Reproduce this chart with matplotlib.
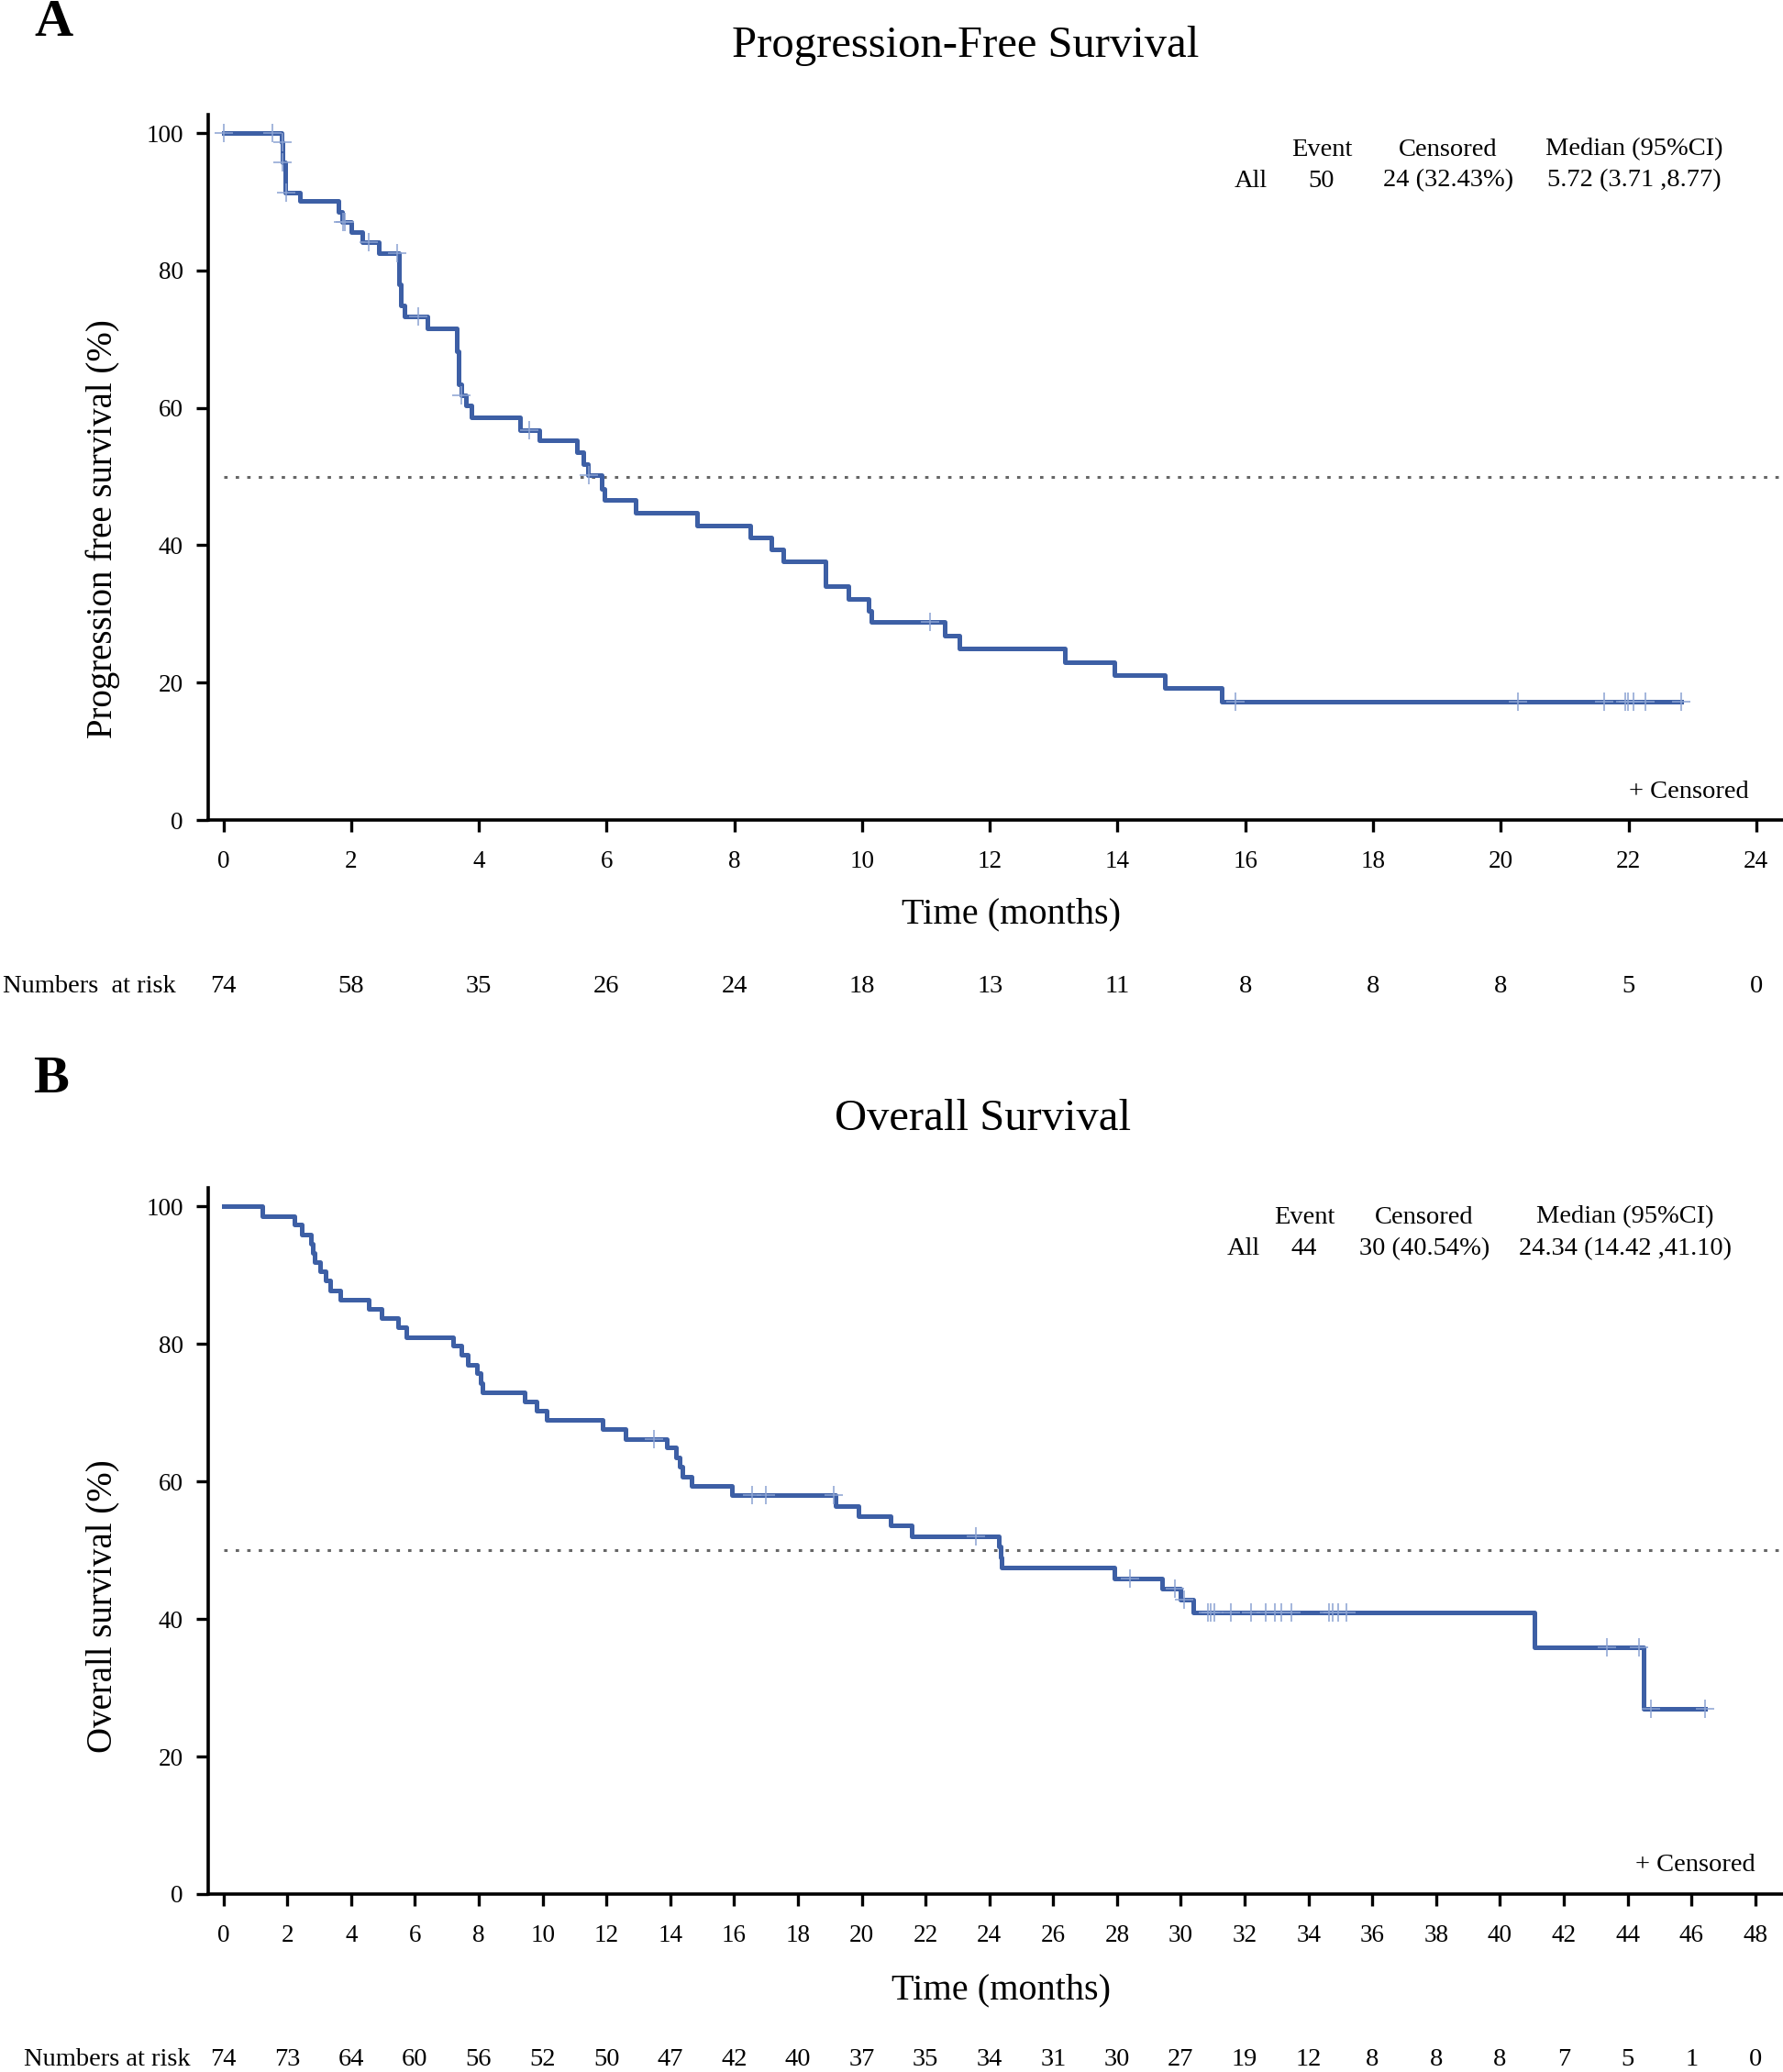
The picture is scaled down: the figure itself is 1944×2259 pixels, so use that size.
import matplotlib
matplotlib.use("Agg")
import numpy as np
import matplotlib.pyplot as plt
from matplotlib.transforms import blended_transform_factory

plt.rcParams['font.family'] = ['Liberation Serif', 'DejaVu Serif']

W, H = 1944, 2259

# ---- Progression-free survival (panel A) ----
pfs_times = [0.91, 0.93, 0.96, 1.20, 1.80, 1.86, 2.00, 2.17, 2.43, 2.75, 2.78, 2.83,
             3.19, 3.65, 3.68, 3.73, 3.80, 3.88, 4.64, 4.94, 5.54, 5.63, 5.71, 5.92,
             5.97, 6.45, 7.42, 8.25, 8.58, 8.77, 9.42, 9.78, 10.10, 10.14, 11.30,
             11.52, 13.17, 13.95, 14.74, 15.63]
pfs_surv = [98.7, 95.8, 91.4, 90.1, 88.6, 87.1, 85.6, 84.1, 82.6, 78.0, 74.9, 73.3,
            71.6, 68.2, 63.5, 61.9, 60.4, 58.6, 56.8, 55.3, 53.5, 51.8, 50.2, 48.2,
            46.6, 44.8, 42.9, 41.2, 39.4, 37.6, 34.0, 32.2, 30.5, 28.8, 26.8,
            25.0, 23.0, 21.1, 19.2, 17.2]
pfs_end = 22.83
pfs_censored = [0.0, 0.77, 0.92, 0.93, 0.98, 1.87, 1.90, 2.27, 2.72, 3.05, 3.73,
                4.79, 5.72, 11.07, 15.85, 20.27, 21.62, 21.95, 21.99, 22.08, 22.27, 22.83]
pfs_ticks = list(range(0, 25, 2))
pfs_risk = [74, 58, 35, 26, 24, 18, 13, 11, 8, 8, 8, 5, 0]
pfs_stats = ["All", "50", "24 (32.43%)", "5.72 (3.71 ,8.77)"]

# ---- Overall survival (panel B) ----
os_times = [1.22, 2.21, 2.46, 2.74, 2.80, 2.86, 3.03, 3.20, 3.33, 3.66, 4.55, 4.95,
            5.48, 5.72, 7.19, 7.44, 7.65, 7.95, 8.06, 8.11, 9.43, 9.80, 10.13, 11.89,
            12.60, 13.89, 14.17, 14.30, 14.38, 14.67, 15.94, 19.17, 19.91, 20.90,
            21.57, 24.30, 24.34, 24.38, 27.93, 29.40, 29.99, 30.39, 41.09, 44.51]
os_surv = [98.6, 97.3, 95.9, 94.6, 93.2, 91.9, 90.5, 89.2, 87.8, 86.4, 85.1, 83.8,
           82.4, 81.0, 79.7, 78.4, 77.0, 75.7, 74.3, 73.0, 71.6, 70.3, 68.9, 67.6,
           66.2, 64.9, 63.5, 62.1, 60.7, 59.3, 58.0, 56.4, 55.0, 53.6,
           52.0, 50.5, 49.0, 47.5, 45.9, 44.4, 42.8, 41.0, 35.9, 27.0]
os_end = 46.43
os_censored = [13.48, 16.56, 17.0, 19.12, 23.58, 28.40, 29.8, 30.1, 30.86, 30.94,
               31.05, 31.57, 32.19, 32.67, 32.95, 33.16, 33.47, 34.63, 34.75, 34.93,
               35.20, 43.34, 44.37, 44.72, 46.43]
os_ticks = list(range(0, 49, 2))
os_risk = [74, 73, 64, 60, 56, 52, 50, 47, 42, 40, 37, 35, 34, 31, 30, 27, 19, 12,
           8, 8, 8, 7, 5, 1, 0]
os_stats = ["All", "44", "30 (40.54%)", "24.34 (14.42 ,41.10)"]

stat_header = ["Event", "Censored", "Median (95%CI)"]

LINE = '#3d5fa5'
CENS = '#8aa2d2'


def fx(px):
    return px / W


def fy(py):
    return 1 - py / H


def draw_panel(fig, rect, xlim, times, surv, end, cens, ticks, risk, stats, cfg):
    ax = fig.add_axes(rect)
    x = [0] + times + [end]
    y = [100] + surv + [surv[-1]]
    ax.step(x, y, where='post', color=LINE, lw=3.6, zorder=3)

    # censor marks sit on the curve
    idx = np.searchsorted(times, cens, side='right')
    lev = np.array([100] + surv)[idx]
    ax.plot(cens, lev, ls='none', marker='+', ms=14, mew=1.1, color=CENS, zorder=4)

    ax.axhline(50, xmin=0.01, color='#666666', lw=2.2, ls=(0, (1.2, 2.9)), zorder=2)

    ax.set_xlim(*xlim)
    ax.set_ylim(0, 102.7)
    ax.set_xticks(ticks)
    ax.set_yticks(range(0, 101, 20))
    for s in ['top', 'right']:
        ax.spines[s].set_visible(False)
    for s in ['left', 'bottom']:
        ax.spines[s].set_linewidth(2.6)
    ax.tick_params(axis='both', direction='out', length=9.5, width=2.4, labelsize=19.5)
    ax.tick_params(axis='x', pad=14)
    ax.tick_params(axis='y', pad=10)

    # numbers at risk
    tr = blended_transform_factory(ax.transData, fig.transFigure)
    for t, n in zip(ticks, risk):
        ax.text(t, fy(cfg['risk_y']), str(n), transform=tr, ha='center', va='center',
                fontsize=20.5, clip_on=False)
    fig.text(fx(cfg['risk_lbl_x']), fy(cfg['risk_y']), cfg['risk_lbl'], ha='left',
             va='center', fontsize=20.5)

    # labels
    fig.text(fx(cfg['title_x']), fy(cfg['title_y']), cfg['title'], ha='center',
             va='center', fontsize=35)
    fig.text(fx(cfg['panel_x']), fy(cfg['panel_y']), cfg['panel'], ha='center',
             va='center', fontsize=42, fontweight='bold')
    fig.text(fx(cfg['xlab_x']), fy(cfg['xlab_y']), 'Time (months)', ha='center',
             va='center', fontsize=29)
    fig.text(fx(112), fy(cfg['ylab_y']), cfg['ylab'], ha='center', va='center',
             rotation=90, fontsize=28)

    # summary table
    hx = cfg['head_x']
    for s, xx in zip(stat_header, hx[1:]):
        fig.text(fx(xx), fy(cfg['head_y']), s, ha='center', va='center', fontsize=20.5)
    for s, xx in zip(stats, hx):
        fig.text(fx(xx), fy(cfg['row_y']), s, ha='center', va='center', fontsize=20.5)

    fig.text(fx(cfg['cens_x']), fy(cfg['cens_y']), '+ Censored', ha='right',
             va='center', fontsize=20.5)
    return ax


fig = plt.figure(figsize=(W / 100, H / 100), dpi=100)

left = 226.8 / W
draw_panel(fig, [left, fy(894), 1 - left, (894 - 125) / H], (-0.243, 24.42),
           pfs_times, pfs_surv, pfs_end, pfs_censored, pfs_ticks, pfs_risk, pfs_stats,
           dict(risk_y=1075, risk_lbl_x=3, risk_lbl='Numbers  at risk',
                title='Progression-Free Survival', title_x=1053, title_y=50,
                panel='A', panel_x=58, panel_y=25, xlab_x=1102, xlab_y=997,
                ylab='Progression free survival (%)', ylab_y=577,
                head_x=[1364, 1441, 1579, 1782], head_y=163, row_y=197,
                cens_x=1907, cens_y=863))

draw_panel(fig, [left, fy(2065), 1 - left, (2065 - 1295) / H], (-0.486, 48.87),
           os_times, os_surv, os_end, os_censored, os_ticks, os_risk, os_stats,
           dict(risk_y=2245, risk_lbl_x=26, risk_lbl='Numbers at risk',
                title='Overall Survival', title_x=1072, title_y=1220,
                panel='B', panel_x=55, panel_y=1177, xlab_x=1091, xlab_y=2170,
                ylab='Overall survival (%)', ylab_y=1751,
                head_x=[1356, 1422, 1553, 1772], head_y=1327, row_y=1362,
                cens_x=1914, cens_y=2033))

fig.savefig('out.png', dpi=100, facecolor='white')
